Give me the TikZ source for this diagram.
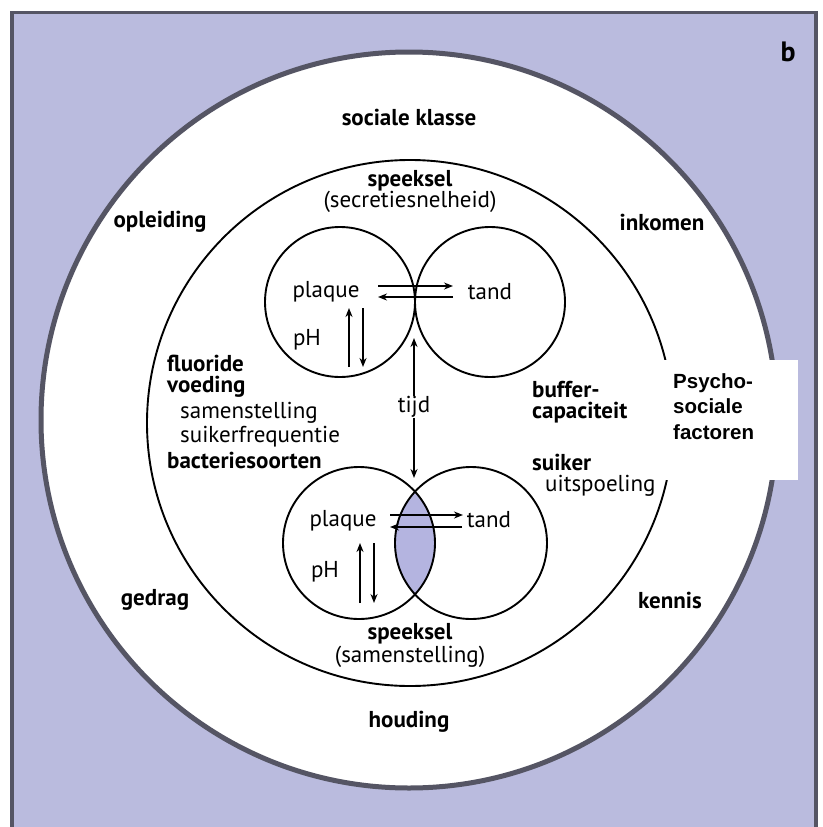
\documentclass[tikz,border=0pt]{standalone}
\usepackage{fontspec}
\setmainfont{PT Sans}
\newfontfamily\arialfont{Liberation Sans}
\usetikzlibrary{arrows.meta}
\definecolor{lav}{RGB}{186,187,222}
\definecolor{lens}{RGB}{180,180,224}
\definecolor{rim}{RGB}{85,85,100}
\begin{document}
\begin{tikzpicture}[x=1pt,y=-1pt,
  lbl/.style={font=\fontsize{23}{25}\selectfont, inner sep=0pt},
  blbl/.style={font=\fontsize{23}{25}\selectfont\bfseries, inner sep=0pt},
  arr/.style={line width=1.5pt, -{Stealth[length=9pt,width=7pt]}},
  ring/.style={circle, draw=black, line width=1.9pt, inner sep=0pt}]
\useasboundingbox (0,0) rectangle (822,827);
\fill[lav] (11,11) rectangle (818,827);
\draw[rim, line width=3.5pt] (12,827) -- (12,12.5) -- (816,12.5) -- (816,827);
% big circles
\node[circle, draw=rim, fill=white, line width=5pt, minimum size=736pt, inner sep=0pt] (outer) at (409,420) {};
\node[ring, minimum size=526pt] (inner) at (410,423) {};
% lens fill
\begin{scope}
\clip (359,543) circle (76pt);
\fill[lens] (471,543) circle (76pt);
\end{scope}
% small circles
\node[ring, minimum size=150pt] (ul) at (340,302) {};
\node[ring, minimum size=150pt] (ur) at (490,302) {};
\node[ring, minimum size=152pt] (ll) at (359,543) {};
\node[ring, minimum size=152pt] (lr) at (471,543) {};
% psycho-sociale box
\fill[white] (650,360) rectangle (798,480);
\node[font=\arialfont\fontsize{20.5}{25.5}\selectfont\bfseries, align=left, anchor=north west, inner sep=0pt] (psy) at (673,373) {Psycho-\\sociale\\factoren};
% outer labels
\node[font=\fontsize{28}{30}\selectfont\bfseries, inner sep=0pt] (b) at (788,52) {b};
\node[blbl] (klasse) at (409,117) {sociale klasse};
\node[blbl] (opl) at (160,222) {opleiding};
\node[blbl] (ink) at (662,222) {inkomen};
\node[blbl] (ged) at (155,600) {gedrag};
\node[blbl] (ken) at (670,600) {kennis};
\node[blbl] (houd) at (409,722) {houding};
% inner labels
\node[blbl] (sp1) at (410,181) {speeksel};
\node[lbl] (sec) at (410,202) {(secretiesnelheid)};
\node[blbl] (sp2) at (410,634) {speeksel};
\node[lbl] (sam2) at (410,657) {(samenstelling)};
\node[blbl, anchor=west] (flu) at (167,363) {fluoride};
\node[blbl, anchor=west] (voe) at (167,387) {voeding};
\node[lbl, anchor=west] (sam) at (180,413) {samenstelling};
\node[lbl, anchor=west] (suif) at (180,437) {suikerfrequentie};
\node[blbl, anchor=west] (bac) at (167,460) {bacteriesoorten};
\node[blbl, anchor=west] (buf) at (532,390) {buffer-};
\node[blbl, anchor=west] (cap) at (532,413) {capaciteit};
\node[blbl, anchor=west] (sui) at (532,462) {suiker};
\node[lbl, anchor=west] (uit) at (545,486) {uitspoeling};
% small circle labels
\node[lbl] (pq1) at (326,292) {plaque};
\node[lbl] (td1) at (490,292) {tand};
\node[lbl] (ph1) at (307,340) {pH};
\node[lbl] (pq2) at (343,521) {plaque};
\node[lbl] (td2) at (489,520) {tand};
\node[lbl] (ph2) at (325,572) {pH};
\node[lbl] (tijd) at (414,407) {tijd};
% arrow coordinates
\coordinate (a1) at (378,286); \coordinate (a2) at (453,286);
\coordinate (a3) at (453,297); \coordinate (a4) at (378,297);
\coordinate (a5) at (349,367); \coordinate (a6) at (349,308);
\coordinate (a7) at (363,308); \coordinate (a8) at (363,367);
\coordinate (t1) at (414,338); \coordinate (t2) at (414,478);
\coordinate (b1) at (390,515); \coordinate (b2) at (463,515);
\coordinate (b3) at (462,527); \coordinate (b4) at (390,527);
\coordinate (b5) at (360,603); \coordinate (b6) at (360,543);
\coordinate (b7) at (374,543); \coordinate (b8) at (374,603);
\draw[arr] (a1) -- (a2);
\draw[arr] (a3) -- (a4);
\draw[arr] (a5) -- (a6);
\draw[arr] (a7) -- (a8);
\draw[arr] (tijd.north) -- (t1);
\draw[arr] (tijd.south) -- (t2);
\draw[arr] (b1) -- (b2);
\draw[arr] (b3) -- (b4);
\draw[arr] (b5) -- (b6);
\draw[arr] (b7) -- (b8);
\end{tikzpicture}
\end{document}
